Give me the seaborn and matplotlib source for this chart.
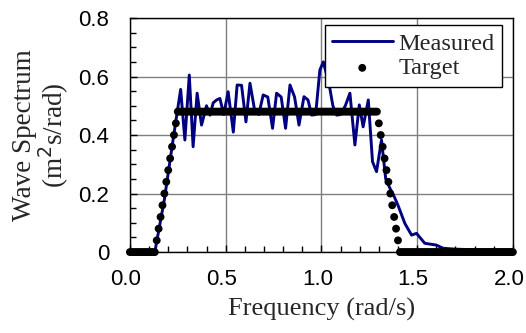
import numpy as np
import pandas as pd
import matplotlib
matplotlib.use("Agg")
import matplotlib.pyplot as plt
import matplotlib.transforms as mtransforms
import seaborn as sns
from matplotlib.ticker import MultipleLocator, FuncFormatter

# ---- data ----
measured_freq = [0.13, 0.18, 0.22, 0.245, 0.265, 0.287, 0.31, 0.33, 0.351, 0.374,
                 0.40, 0.418, 0.435, 0.453, 0.47, 0.49, 0.513, 0.54, 0.56, 0.583,
                 0.606, 0.627, 0.65, 0.673, 0.696, 0.72, 0.745, 0.766, 0.79, 0.813,
                 0.836, 0.86, 0.883, 0.909, 0.93, 0.949, 0.97, 0.992, 1.01, 1.03,
                 1.044, 1.06, 1.08, 1.10, 1.125, 1.149, 1.175, 1.198, 1.218, 1.245,
                 1.267, 1.288, 1.314, 1.336, 1.358, 1.38, 1.40, 1.436, 1.471, 1.497,
                 1.54, 1.60, 1.636, 1.70, 1.80, 1.90, 2.00]
measured_val = [0.0, 0.18, 0.36, 0.47, 0.556, 0.383, 0.605, 0.36, 0.543, 0.434,
                0.50, 0.468, 0.51, 0.52, 0.525, 0.47, 0.548, 0.41, 0.571, 0.57,
                0.445, 0.577, 0.49, 0.47, 0.537, 0.53, 0.423, 0.543, 0.53, 0.423,
                0.571, 0.53, 0.434, 0.531, 0.52, 0.468, 0.47, 0.622, 0.65, 0.60,
                0.56, 0.50, 0.468, 0.47, 0.50, 0.543, 0.366, 0.503, 0.428, 0.52,
                0.309, 0.275, 0.383, 0.25, 0.218, 0.19, 0.16, 0.098, 0.058, 0.064,
                0.03, 0.024, 0.013, 0.01, 0.008, 0.008, 0.008]

target_freq = [round(0.01 * i, 2) for i in range(201)]
target_val = (
    [0.00, 0.00, 0.00, 0.00, 0.00, 0.00, 0.00, 0.00, 0.00, 0.00, 0.00, 0.00, 0.00, 0.00]
    + [0.04, 0.08, 0.12, 0.16, 0.20, 0.24, 0.28, 0.32, 0.36, 0.40, 0.44]
    + [0.48, 0.48, 0.48, 0.48, 0.48, 0.48, 0.48, 0.48, 0.48, 0.48, 0.48, 0.48, 0.48, 0.48, 0.48,
       0.48, 0.48, 0.48, 0.48, 0.48, 0.48, 0.48, 0.48, 0.48, 0.48, 0.48, 0.48, 0.48, 0.48, 0.48,
       0.48, 0.48, 0.48, 0.48, 0.48, 0.48, 0.48, 0.48, 0.48, 0.48, 0.48, 0.48, 0.48, 0.48, 0.48,
       0.48, 0.48, 0.48, 0.48, 0.48, 0.48, 0.48, 0.48, 0.48, 0.48, 0.48, 0.48, 0.48, 0.48, 0.48,
       0.48, 0.48, 0.48, 0.48, 0.48, 0.48, 0.48, 0.48, 0.48, 0.48, 0.48, 0.48, 0.48, 0.48, 0.48,
       0.48, 0.48, 0.48, 0.48, 0.48, 0.48, 0.48, 0.48, 0.48, 0.48, 0.48, 0.48, 0.48, 0.48, 0.48,
       0.48, 0.48, 0.48, 0.48, 0.48, 0.48, 0.48, 0.48, 0.48, 0.48, 0.48, 0.48, 0.48, 0.48, 0.48]
    + [0.44, 0.40, 0.36, 0.32, 0.28, 0.24, 0.20, 0.16, 0.12, 0.08, 0.04]
    + [0.00, 0.00, 0.00, 0.00, 0.00, 0.00, 0.00, 0.00, 0.00, 0.00,
       0.00, 0.00, 0.00, 0.00, 0.00, 0.00, 0.00, 0.00, 0.00, 0.00,
       0.00, 0.00, 0.00, 0.00, 0.00, 0.00, 0.00, 0.00, 0.00, 0.00,
       0.00, 0.00, 0.00, 0.00, 0.00, 0.00, 0.00, 0.00, 0.00, 0.00,
       0.00, 0.00, 0.00, 0.00, 0.00, 0.00, 0.00, 0.00, 0.00, 0.00,
       0.00, 0.00, 0.00, 0.00, 0.00, 0.00, 0.00, 0.00, 0.00, 0.00]
)

x_ticks = [0.0, 0.5, 1.0, 1.5, 2.0]
y_ticks = [0.0, 0.2, 0.4, 0.6, 0.8]

df_m = pd.DataFrame({"f": measured_freq, "v": measured_val})
df_t = pd.DataFrame({"f": target_freq, "v": target_val})

sns.set_style("ticks")
plt.rcParams["font.family"] = ["Liberation Sans", "DejaVu Sans"]

fig = plt.figure(figsize=(5.26, 3.33), dpi=100)
ax = fig.add_axes([0.247, 0.243, 0.728, 0.703])

serif = "Liberation Serif"

sns.lineplot(data=df_m, x="f", y="v", ax=ax, color="#000080", linewidth=2.1,
             label="Measured", zorder=3, clip_on=False)
sns.scatterplot(data=df_t, x="f", y="v", ax=ax, color="black", s=32,
                edgecolor="none", label="Target", zorder=4, clip_on=False)

ax.set_xlim(0, 2.0)
ax.set_ylim(0, 0.8)
ax.set_xticks(x_ticks)
ax.set_yticks(y_ticks)
ax.xaxis.set_minor_locator(MultipleLocator(0.1))
ax.yaxis.set_minor_locator(MultipleLocator(0.05))
ax.xaxis.set_major_formatter(FuncFormatter(lambda v, p: f"{v:.1f}"))
ax.yaxis.set_major_formatter(FuncFormatter(lambda v, p: "0" if abs(v) < 1e-9 else f"{v:.1f}"))
ax.tick_params(which="both", direction="in", colors="black", labelsize=16)
ax.tick_params(axis="x", which="major", length=5, width=1, pad=12)
ax.tick_params(axis="y", which="major", length=5, width=1, pad=15)
ax.tick_params(which="minor", length=4, width=1)
ax.grid(True, which="major", color="#7f7f7f", linewidth=1.0)
ax.set_axisbelow(True)
for s in ax.spines.values():
    s.set_color("black")
    s.set_linewidth(1.0)
    s.set_visible(True)

# x tick labels sit slightly left of their ticks, as in the reference
offset = mtransforms.ScaledTranslation(-4 / 100, 0, fig.dpi_scale_trans)
for lab in ax.get_xticklabels():
    lab.set_transform(lab.get_transform() + offset)

ax.set_xlabel("Frequency (rad/s)", fontfamily=serif, fontsize=19, labelpad=6)
ax.set_ylabel("Wave Spectrum\n(m$^2$s/rad)", fontfamily=serif, fontsize=19.5,
              labelpad=5, linespacing=1.0)

leg = ax.legend(loc="upper right", bbox_to_anchor=(0.972, 0.968), borderaxespad=0,
                frameon=True, fancybox=False, framealpha=1, edgecolor="black",
                prop={"family": serif, "size": 17.5}, handlelength=2.5,
                borderpad=0.3, labelspacing=0.1, handletextpad=0.25)
leg.get_frame().set_linewidth(1.0)

fig.savefig("out.png", dpi=100)
